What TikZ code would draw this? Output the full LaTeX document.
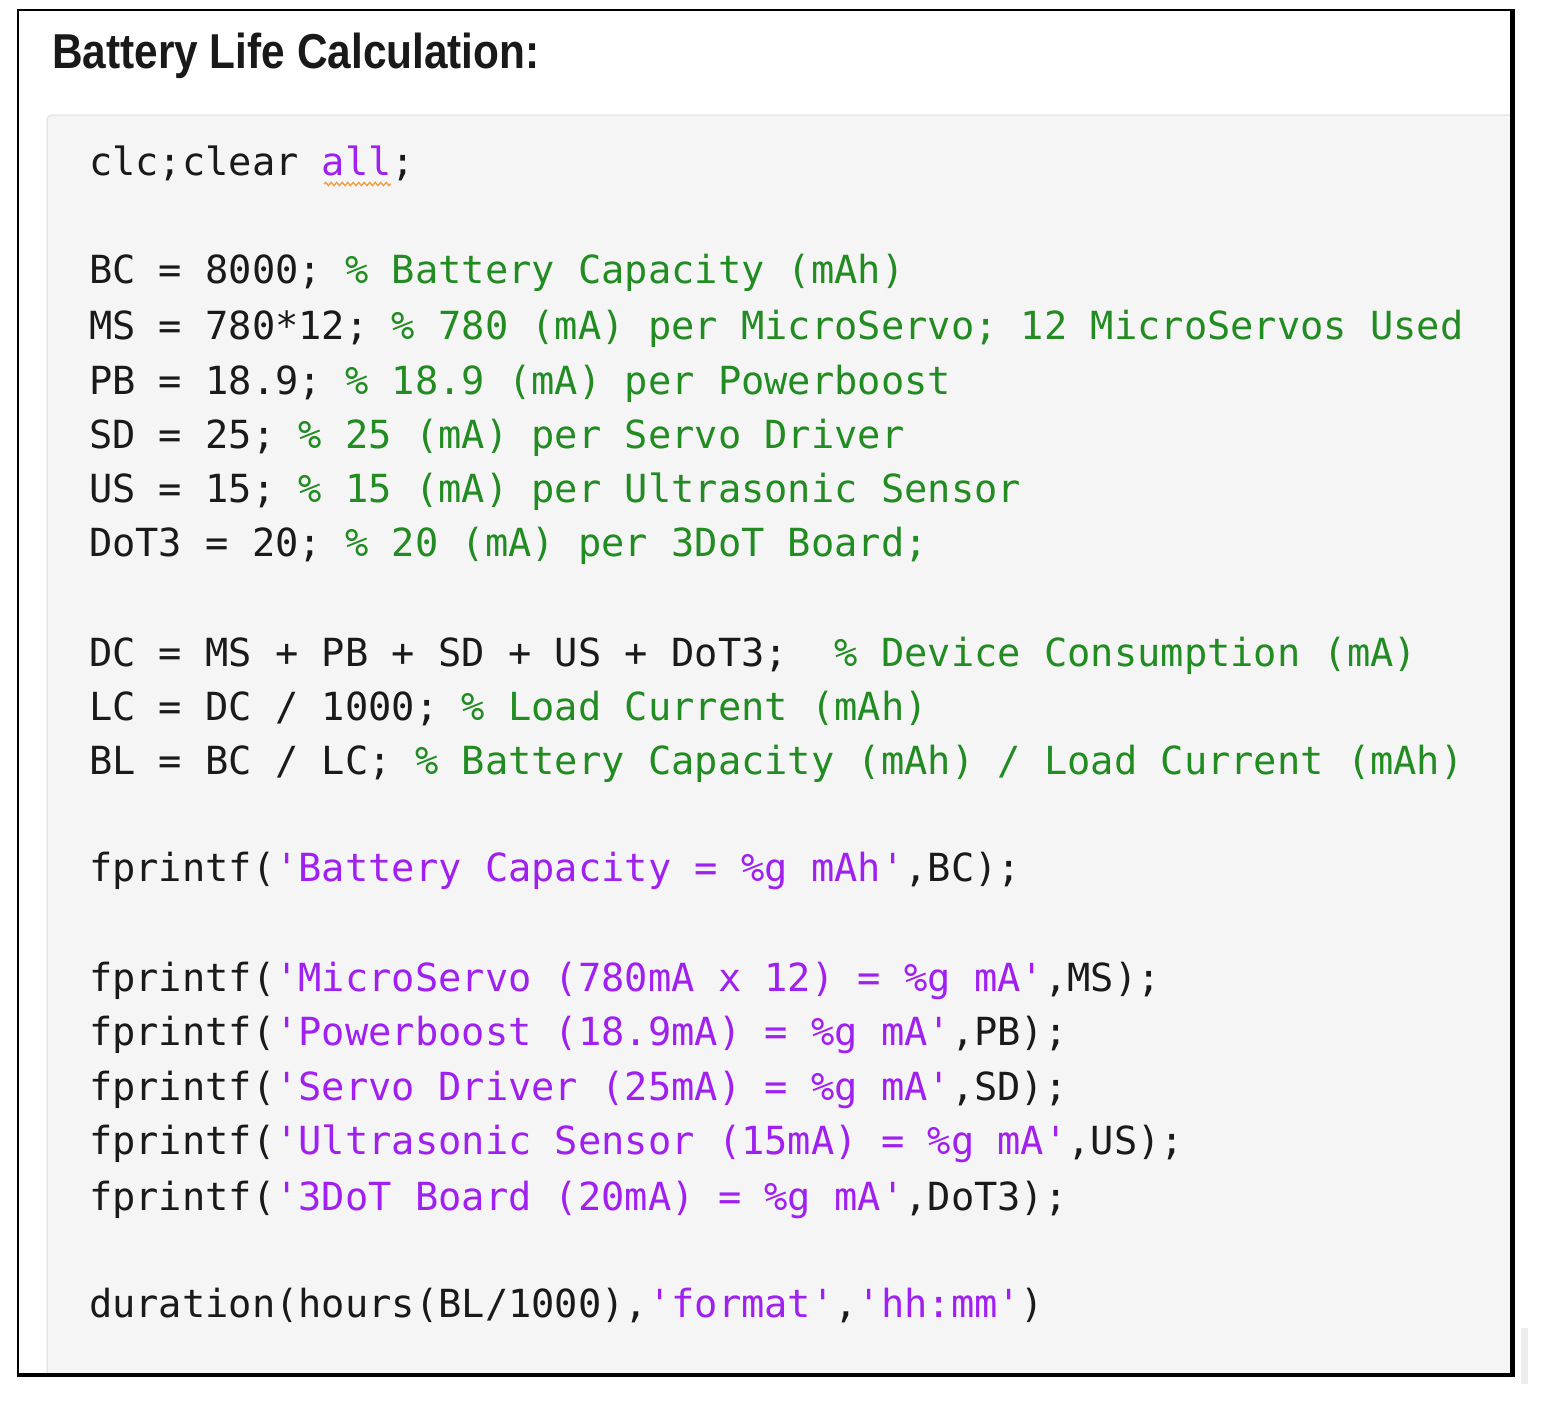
\documentclass[tikz,border=0pt]{standalone}
\usepackage{fontspec}
\setmainfont{Liberation Sans}
\setmonofont{DejaVu Sans Mono}
\newfontfamily\titlefont{Liberation Sans}[BoldFont={Liberation Sans Bold}]
\usetikzlibrary{decorations.pathmorphing}
\definecolor{codeblack}{HTML}{1A1A1A}
\definecolor{cmtgreen}{HTML}{228B22}
\definecolor{strpurple}{HTML}{A020F0}
\definecolor{panelgray}{HTML}{F5F5F5}
\definecolor{paneledge}{HTML}{E6E6E6}
\definecolor{squigorange}{HTML}{F0A040}
\newcommand\cmt[1]{\textcolor{cmtgreen}{#1}}
\newcommand\mstr[1]{\textcolor{strpurple}{#1}}
\begin{document}
\begin{tikzpicture}[x=1pt,y=-1pt,
  codeline/.style={anchor=base west, inner sep=0pt, outer sep=0pt, text=codeblack,
    font=\ttfamily\fontsize{38.7}{40}\selectfont},
  titletext/.style={anchor=base west, inner sep=0pt, text=black!90,
    font=\titlefont\bfseries\fontsize{49}{50}\selectfont}]
\useasboundingbox (0,0) rectangle (1546,1416);
% code panel
\fill[panelgray] (47,1373) -- (47,120) arc[start angle=180,end angle=270,radius=5] -- (1510,115) -- (1510,1373) -- cycle;
\draw[paneledge, line width=1.5] (47,1373) -- (47,120) arc[start angle=180,end angle=270,radius=5] -- (1510,115);
% outer frame
\draw[black, line width=2] (1512,10) -- (18,10) -- (18,1375);
\draw[black, line width=4.5] (1512.5,8.5) -- (1512.5,1375) -- (16.5,1375);
% small gray bar
\fill[black!7] (1521,1328) rectangle (1528,1384);
% title
\node[titletext] (title) at (52,68) {\scalebox{0.865}[1]{Battery Life Calculation:}};
% code lines
\node[codeline] (l1) at (89,175) {clc;clear \mstr{all};};
\draw[squigorange, line width=1.4, decorate, decoration={snake, amplitude=1.6pt, segment length=5.5pt}] (324,184) -- (391,184);
\node[codeline] (l3) at (89,283) {BC = 8000; \cmt{\% Battery Capacity (mAh)}};
\node[codeline] (l4) at (89,339) {MS = 780*12; \cmt{\% 780 (mA) per MicroServo; 12 MicroServos Used}};
\node[codeline] (l5) at (89,394) {PB = 18.9; \cmt{\% 18.9 (mA) per Powerboost}};
\node[codeline] (l6) at (89,448) {SD = 25; \cmt{\% 25 (mA) per Servo Driver}};
\node[codeline] (l7) at (89,502) {US = 15; \cmt{\% 15 (mA) per Ultrasonic Sensor}};
\node[codeline] (l8) at (89,556) {DoT3 = 20; \cmt{\% 20 (mA) per 3DoT Board;}};
\node[codeline] (l10) at (89,666) {DC = MS + PB + SD + US + DoT3;\ \ \cmt{\% Device Consumption (mA)}};
\node[codeline] (l11) at (89,720) {LC = DC / 1000; \cmt{\% Load Current (mAh)}};
\node[codeline] (l12) at (89,774) {BL = BC / LC; \cmt{\% Battery Capacity (mAh) / Load Current (mAh)}};
\node[codeline] (l14) at (89,881) {fprintf(\mstr{'Battery Capacity = \%g mAh'},BC);};
\node[codeline] (l16) at (89,991) {fprintf(\mstr{'MicroServo (780mA x 12) = \%g mA'},MS);};
\node[codeline] (l17) at (89,1045) {fprintf(\mstr{'Powerboost (18.9mA) = \%g mA'},PB);};
\node[codeline] (l18) at (89,1100) {fprintf(\mstr{'Servo Driver (25mA) = \%g mA'},SD);};
\node[codeline] (l19) at (89,1154) {fprintf(\mstr{'Ultrasonic Sensor (15mA) = \%g mA'},US);};
\node[codeline] (l20) at (89,1210) {fprintf(\mstr{'3DoT Board (20mA) = \%g mA'},DoT3);};
\node[codeline] (l22) at (89,1317) {duration(hours(BL/1000),\mstr{'format'},\mstr{'hh:mm'})};
\end{tikzpicture}
\end{document}
